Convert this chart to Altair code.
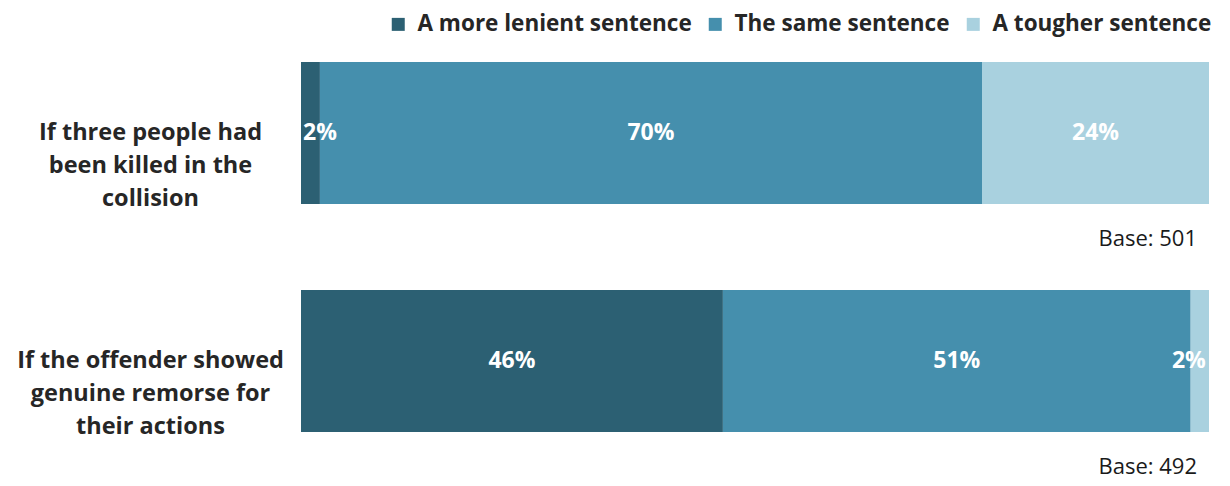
import altair as alt
import pandas as pd

questions = [["If three people had", "been killed in the", "collision"],
             ["If the offender showed", "genuine remorse for", "their actions"]]
responses = ["A more lenient sentence", "The same sentence", "A tougher sentence"]
lenient = [2, 46]
same = [70, 51]
tougher = [24, 2]
bases = [501, 492]
colors = ["#2C6073", "#458FAD", "#A9D1DF"]

FONT = "Open Sans"
q_labels = ["\n".join(q) for q in questions]
rows = []
for i, q in enumerate(q_labels):
    for j, (r, vals) in enumerate(zip(responses, [lenient, same, tougher])):
        rows.append({"question": q, "response": r, "order": j, "value": vals[i]})
df = pd.DataFrame(rows)
base_df = pd.DataFrame({"question": q_labels, "base": [f"Base: {b}" for b in bases]})

y_enc = alt.Y(
    "question:N",
    sort=q_labels,
    title=None,
    scale=alt.Scale(paddingInner=0.377, paddingOuter=0),
    axis=alt.Axis(
        domain=False, ticks=False, labelAlign="center", labelPadding=151,
        labelExpr="split(datum.label, '\\n')", labelFont=FONT, labelFontSize=23.5,
        labelFontWeight="bold", labelColor="#262626", labelLineHeight=33,
        labelBaseline="middle", labelLimit=0,
    ),
)
x_scale = alt.Scale(domain=[0, 1], nice=False)

bars = alt.Chart(df).mark_bar().encode(
    y=y_enc,
    x=alt.X("value:Q", stack="normalize", scale=x_scale, axis=None),
    color=alt.Color(
        "response:N",
        scale=alt.Scale(domain=responses, range=colors),
        legend=alt.Legend(
            title=None, orient="none", direction="horizontal", legendX=86, legendY=-49,
            symbolType="square", symbolSize=169, symbolStrokeWidth=0,
            labelFont=FONT, labelFontSize=22.5, labelFontWeight="bold",
            labelColor="#262626", labelOffset=8, columnPadding=12, labelLimit=0,
        ),
    ),
    order=alt.Order("order:Q"),
)

labels = alt.Chart(df).transform_stack(
    stack="value", groupby=["question"], as_=["x0", "x1"],
    sort=[alt.SortField("order")], offset="normalize",
).transform_calculate(
    pos="datum.value < 5 ? (datum.order == 0 ? datum.x1 : datum.x0 - 0.002) : (datum.x0 + datum.x1) / 2",
    lab="datum.value + '%'",
).mark_text(
    font=FONT, fontSize=23, fontWeight="bold", color="white", align="center", baseline="middle"
).encode(
    y=alt.Y("question:N", sort=q_labels),
    x=alt.X("pos:Q", scale=x_scale),
    text="lab:N",
)

base_text = alt.Chart(base_df).mark_text(
    font=FONT, fontSize=22, color="#1a1a1a", align="right", baseline="middle", dx=-12, dy=106
).encode(
    y=alt.Y("question:N", sort=q_labels),
    x=alt.datum(1.0),
    text="base:N",
)

chart = alt.layer(bars, labels, base_text).properties(
    width=908, height=370,
    autosize=alt.AutoSizeParams(type="none"),
    padding={"left": 293, "top": 54, "right": 13, "bottom": 50},
).configure_view(stroke=None)

chart.save("out.html", embed_options={"renderer": "svg", "actions": False})
